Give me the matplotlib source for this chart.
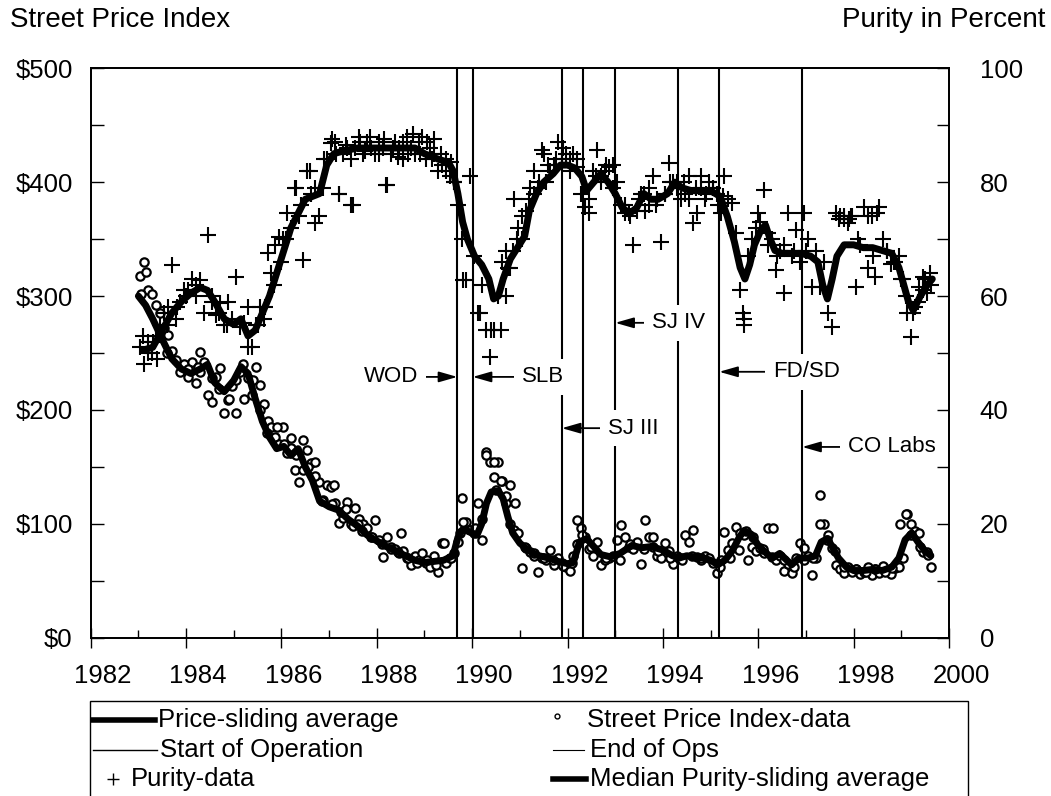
import numpy as np
import matplotlib
matplotlib.use("Agg")
import matplotlib.pyplot as plt
from matplotlib.lines import Line2D
from matplotlib.patches import Rectangle
from matplotlib.transforms import ScaledTranslation

plt.rcParams['font.family'] = ['Liberation Sans', 'DejaVu Sans']

W, H = 1051, 796

# monthly street price index readings, Jan 1983 onwards ($)
price_data = [
    318, 330, 305, 302, 292, 285, 272, 266, 252, 244, 233, 240,   # 1983
    229, 242, 224, 251, 242, 213, 207, 229, 237, 197, 209, 221,   # 1984
    197, 233, 210, 228, 213, 238, 222, 205, 190, 185, 176, 170,   # 1985
    185, 162, 167, 147, 137, 174, 165, 153, 154, 137, 121, 134,   # 1986
    132, 118, 101, 105, 119, 100, 114, 104, 100, 96, 88, 103,     # 1987
    86, 71, 88, 80, 78, 74, 76, 70, 64, 72, 68, 74,               # 1988
    66, 62, 72, 58, 83, 66, 70, 74, 84, 123, 102, 95,             # 1989
    92, 118, 86, 163, 154, 141, 154, 138, 118, 134, 95, 92,       # 1990
    61, 79, 75, 72, 58, 70, 68, 77, 64, 70, 66, 62,               # 1991
    59, 72, 103, 96, 88, 78, 72, 84, 64, 68, 70, 72,              # 1992
    86, 99, 88, 80, 78, 84, 65, 103, 88, 80, 72, 70,              # 1993
    83, 76, 65, 72, 70, 90, 84, 95, 71, 68, 72, 70,               # 1994
    66, 57, 68, 93, 77, 83, 97, 92, 90, 68, 80, 76,               # 1995
    79, 74, 96, 71, 68, 72, 59, 65, 57, 70, 83, 79,               # 1996
    72, 55, 70, 125, 100, 90, 79, 64, 60, 57, 62, 58,             # 1997
    60, 56, 58, 62, 55, 60, 57, 63, 59, 56, 61, 62,               # 1998
    70, 109, 100, 94, 92, 75, 75, 62,                             # 1999
]
# additional price readings between the monthly ones
extra_price_t = [1983.05, 1983.15, 1983.6, 1984.05, 1984.25, 1984.3, 1984.55, 1984.7,
                 1984.9, 1985.05, 1985.2, 1985.4, 1985.55, 1985.7, 1985.9, 1986.05,
                 1986.2, 1986.3, 1986.45, 1986.55, 1986.7, 1986.85, 1987.05, 1987.1,
                 1987.25, 1987.35, 1987.5, 1987.6, 1987.7, 1987.9, 1988.1, 1988.3,
                 1988.45, 1988.5, 1988.65, 1988.85, 1989.05, 1989.25, 1989.4, 1989.55,
                 1989.75, 1989.8, 1990.05, 1990.2, 1990.3, 1990.45, 1990.5, 1990.6,
                 1990.7, 1990.8, 1990.9, 1991.1, 1991.3, 1991.5, 1991.7, 1991.9, 1992.1,
                 1992.2, 1992.3, 1992.5, 1992.8, 1993.1, 1993.3, 1993.6, 1993.8, 1993.9,
                 1994.15, 1994.4, 1994.6, 1994.8, 1995.2, 1995.4, 1995.6, 1995.75, 1995.9,
                 1996.1, 1996.3, 1996.55, 1996.75, 1996.95, 1997.15, 1997.3, 1997.45,
                 1997.6, 1997.8, 1998.05, 1998.25, 1998.45, 1998.65, 1998.8, 1998.98,
                 1999.1, 1999.2, 1999.4, 1999.55]
extra_price_v = [302, 321, 250, 236, 238, 233, 228, 218, 210, 226, 240, 226, 200, 180,
                 185, 170, 175, 160, 147, 150, 142, 120, 117, 134, 110, 113, 98, 100, 94,
                 88, 82, 78, 75, 92, 70, 66, 68, 64, 83, 70, 92, 102, 96, 104, 160, 154,
                 130, 138, 124, 100, 118, 80, 74, 70, 68, 63, 66, 82, 90, 80, 70, 68, 82,
                 78, 88, 76, 70, 68, 72, 70, 62, 70, 77, 94, 88, 78, 96, 68, 62, 68, 70,
                 100, 86, 76, 62, 60, 58, 60, 58, 61, 100, 109, 90, 80, 73]

# monthly median purity readings, Jan 1983 onwards (%)
purity_data = [
    51, 48, 52, 50, 53, 55, 57, 58, 65.4, 56, 59, 61,              # 1983
    61, 63, 60, 62.8, 57, 70.7, 59, 56.7, 58.7, 55, 59, 56,        # 1984
    63.4, 54.5, 55.2, 58, 51, 55, 58, 56, 67.5, 64, 69, 70.3,      # 1985
    70, 74.5, 72, 79, 74, 66.3, 82, 78, 72.8, 74, 79, 84,          # 1986
    86.8, 87, 78, 85, 86, 76, 86, 88, 85, 87, 86, 85,              # 1987
    87, 86, 79.5, 85, 87, 86, 84, 88, 86, 85, 87, 88,              # 1988
    84, 86, 85, 82, 83, 84, 81, 80, 76, 70, 62.8, 81,              # 1989
    67, 57, 62, 54, 49.3, 54, 60, 66, 68, 65, 77, 72,              # 1990
    70, 75, 79, 82, 79, 85.6, 80, 82, 83, 87, 84, 85,              # 1991
    84, 85, 82.7, 78, 75.6, 74.5, 82, 85.6, 81, 82, 82.7, 83,      # 1992
    80, 76, 74.5, 74.5, 69, 75, 78, 75, 76, 81, 77, 69.5,          # 1993
    78, 83.3, 80, 79, 77, 78, 81, 72.8, 74.5, 79, 77, 80,          # 1994
    79, 78, 74.5, 81, 77, 76.3, 71, 61, 56, 67, 70, 72,            # 1995
    73, 78.6, 69, 70, 64.5, 68, 60.5, 74.5, 67, 71.6, 66, 74.5,    # 1996
    70, 61.6, 68, 61.6, 66, 57, 54.6, 74.5, 74, 73.5, 72.8, 74,    # 1997
    61.6, 69, 75.6, 65, 74, 63.4, 75.6, 70, 68, 65.7, 66, 67,      # 1998
    63, 57, 52.8, 58, 61.6, 63.4, 60.5, 62,                        # 1999
]
extra_purity_t = [1983.1, 1983.2, 1983.3, 1983.4, 1983.6, 1983.8, 1984.0, 1984.2, 1984.55,
                  1984.7, 1984.85, 1985.3, 1985.5, 1985.65, 1985.85, 1986.0, 1986.1,
                  1986.3, 1986.4, 1986.6, 1986.7, 1986.9, 1987.05, 1987.15, 1987.2,
                  1987.35, 1987.45, 1987.5, 1987.65, 1987.75, 1987.85, 1988.05, 1988.15,
                  1988.2, 1988.35, 1988.45, 1988.55, 1988.65, 1988.75, 1988.9, 1989.05,
                  1989.15, 1989.2, 1989.35, 1989.45, 1989.55, 1989.62, 1989.8, 1990.17,
                  1990.4, 1990.6, 1990.7, 1990.75, 1990.85, 1990.95, 1991.05, 1991.2,
                  1991.3, 1991.4, 1991.5, 1991.6, 1991.75, 1991.9, 1992.05, 1992.2,
                  1992.45, 1992.6, 1992.7, 1992.8, 1992.95, 1993.2, 1993.3, 1993.5,
                  1993.6, 1993.7, 1993.85, 1994.05, 1994.15, 1994.3, 1994.45, 1994.55,
                  1994.7, 1994.8, 1994.9, 1995.05, 1995.15, 1995.25, 1995.67, 1995.7,
                  1996.0, 1996.2, 1996.4, 1996.55, 1996.75, 1997.0, 1997.7, 1997.8,
                  1997.9, 1997.95, 1998.1, 1998.3, 1998.4, 1998.5, 1998.7, 1998.85,
                  1999.0, 1999.1, 1999.25, 1999.35, 1999.45, 1999.5, 1999.6]
extra_purity_v = [53, 50, 52, 49, 55, 58, 60, 62, 60, 57, 55, 51, 55, 58, 62, 66, 70,
                  79, 76, 82, 79, 84, 87.5, 85, 78, 86.5, 84, 76, 87, 85.5, 88, 85, 87.5,
                  79.5, 86, 84.5, 87, 85, 88.5, 85, 87, 84, 87.5, 85, 82, 83.5, 80, 62.8,
                  57, 54, 54, 60, 65, 68, 70, 74, 77, 78, 80, 85, 83, 84, 86, 82, 84, 77,
                  81, 80, 83, 79, 76, 74, 77, 78, 79, 76, 78, 80, 80, 80, 77, 79, 81, 78,
                  79, 76, 77.5, 57, 55, 74.5, 71, 67, 69, 68, 68, 73.5, 74, 73.5, 74, 70,
                  74, 67, 74.5, 68, 66, 63, 60, 57, 59, 61, 63, 64]

# sliding averages
price_avg_t = [1983.0, 1983.15, 1983.3, 1983.5, 1983.7, 1983.9, 1984.1, 1984.3, 1984.45,
               1984.6, 1984.8, 1985.0, 1985.15, 1985.3, 1985.45, 1985.6, 1985.75, 1985.9,
               1986.05, 1986.2, 1986.35, 1986.5, 1986.65, 1986.8, 1987.0, 1987.2, 1987.4,
               1987.6, 1987.8, 1988.0, 1988.2, 1988.4, 1988.6, 1988.8, 1989.0, 1989.2,
               1989.4, 1989.6, 1989.7, 1989.8, 1989.95, 1990.1, 1990.2, 1990.3, 1990.4,
               1990.55, 1990.65, 1990.75, 1990.85, 1991.0, 1991.2, 1991.4, 1991.6, 1991.8,
               1992.0, 1992.12, 1992.25, 1992.4, 1992.55, 1992.7, 1992.9, 1993.1, 1993.35,
               1993.55, 1993.75, 1994.0, 1994.2, 1994.35, 1994.5, 1994.65, 1994.85, 1995.0,
               1995.15, 1995.3, 1995.45, 1995.6, 1995.7, 1995.85, 1996.0, 1996.2, 1996.3,
               1996.45, 1996.6, 1996.7, 1996.85, 1997.05, 1997.2, 1997.32, 1997.45, 1997.55,
               1997.68, 1997.85, 1998.0, 1998.2, 1998.4, 1998.6, 1998.8, 1998.95, 1999.08,
               1999.22, 1999.35, 1999.5, 1999.62]
price_avg_v = [300, 292, 280, 262, 245, 236, 232, 236, 240, 224, 216, 226, 238, 232, 210,
               190, 176, 166, 168, 160, 166, 150, 138, 120, 115, 112, 104, 98, 90, 85, 80,
               76, 72, 68, 66, 67, 68, 72, 88, 95, 93, 90, 100, 118, 128, 129, 122, 106, 92,
               83, 76, 72, 70, 67, 65, 66, 84, 87, 80, 73, 71, 74, 81, 79, 80, 77, 72, 70,
               72, 71, 70, 68, 64, 68, 76, 88, 94, 91, 81, 73, 70, 74, 68, 64, 70, 70, 72,
               84, 87, 80, 70, 62, 59, 59, 60, 59, 62, 70, 86, 92, 84, 76, 72]

purity_avg_t = [1983.1, 1983.3, 1983.5, 1983.7, 1983.9, 1984.1, 1984.3, 1984.45, 1984.6,
                1984.8, 1985.0, 1985.15, 1985.3, 1985.45, 1985.6, 1985.75, 1985.9, 1986.05,
                1986.2, 1986.35, 1986.5, 1986.65, 1986.8, 1986.95, 1987.1, 1987.3, 1987.6,
                1988.0, 1988.4, 1988.8, 1989.0, 1989.3, 1989.5, 1989.6, 1989.7, 1989.8,
                1989.9, 1990.05, 1990.2, 1990.35, 1990.45, 1990.55, 1990.65, 1990.8,
                1990.95, 1991.1, 1991.2, 1991.35, 1991.5, 1991.7, 1991.85, 1992.0, 1992.15,
                1992.3, 1992.4, 1992.55, 1992.7, 1992.85, 1993.0, 1993.15, 1993.3, 1993.45,
                1993.6, 1993.75, 1993.9, 1994.1, 1994.25, 1994.4, 1994.6, 1994.8, 1995.0,
                1995.2, 1995.35, 1995.5, 1995.62, 1995.72, 1995.82, 1995.92, 1996.05,
                1996.15, 1996.25, 1996.35, 1996.5, 1996.7, 1996.9, 1997.1, 1997.25, 1997.35,
                1997.45, 1997.55, 1997.65, 1997.8, 1998.0, 1998.2, 1998.4, 1998.6, 1998.8,
                1998.95, 1999.05, 1999.15, 1999.25, 1999.4, 1999.55, 1999.65]
purity_avg_v = [50.5, 51, 54, 57, 59, 60.5, 61.5, 61, 59, 56, 55, 56, 53, 54, 57, 60, 64,
                68, 72, 74.5, 77, 77.5, 78, 83, 85, 85.5, 86, 86, 86, 86, 85, 84, 83.5, 82,
                78, 73, 70, 67, 65.5, 63, 59.5, 60, 63, 66.5, 68.5, 70.5, 75, 78, 80, 81.5,
                83, 83, 82.5, 81, 78.5, 80, 81.5, 80, 78, 75.5, 74.5, 75.5, 78, 77, 77, 78,
                80, 79, 78.5, 78.5, 78.5, 77.5, 74, 69.5, 65, 63, 65.5, 69, 71.5, 72.5, 70,
                68, 67.5, 67.5, 67.5, 67, 66, 62, 59.5, 63, 67, 69, 69, 68.5, 68.5, 68, 67.5,
                65, 62, 59, 57.5, 60, 62, 63]

# operation start / end dates
op_dates = [1989.69, 1990.01, 1991.88, 1992.33, 1993.0, 1994.32, 1995.18, 1996.92]
op_names = ['WOD', 'SLB', 'SJ III', 'SJ IV', 'FD/SD', 'CO Labs']
op_tips = [1989.69, 1990.01, 1991.88, 1993.0, 1995.18, 1996.92]
op_text_x = [1988.86, 1991.05, 1992.85, 1993.77, 1996.31, 1997.88]
op_text_y = [45.8, 45.8, 36.8, 55.3, 46.7, 33.5]

price_t = 1983 + (np.arange(len(price_data)) + 0.5) / 12
purity_t = 1983 + (np.arange(len(purity_data)) + 0.5) / 12

fig = plt.figure(figsize=(W / 100, H / 100), dpi=100)
ax = fig.add_axes([90.7 / W, 1 - 637.7 / H, (949 - 90.7) / W, (637.7 - 68.3) / H])
ax2 = ax.twinx()

circ = dict(ms=6, mfc='white', mec='black', mew=1.6, zorder=2)
ax.plot(price_t, price_data, 'o', **circ)
ax.plot(extra_price_t, extra_price_v, 'o', **circ)
ax.plot(price_avg_t, price_avg_v, '-', color='black', lw=5, solid_capstyle='round', zorder=3)

ax2.plot(purity_t, purity_data, '+', ms=11, mew=1.5, color='black', zorder=2)
ax2.plot(extra_purity_t, extra_purity_v, '+', ms=11, mew=1.5, color='black', zorder=2)
ax2.plot(purity_avg_t, purity_avg_v, '-', color='black', lw=5, solid_capstyle='round', zorder=3)

for d in op_dates:
    ax2.axvline(d, color='black', lw=1.5, zorder=1)

for name, tip, tx, ty in zip(op_names, op_tips, op_text_x, op_text_y):
    ha = 'right' if tx < tip else 'left'
    ax2.annotate(name, xy=(tip, ty), xytext=(tx, ty), ha=ha, va='center', fontsize=16,
                 bbox=dict(boxstyle='square,pad=0.35', fc='white', ec='none'),
                 arrowprops=dict(arrowstyle='-|>,head_length=0.7,head_width=0.2',
                                 color='black', lw=1.3, shrinkA=0, shrinkB=0),
                 zorder=5)

ax.set_xlim(1982, 2000)
ax.set_ylim(0, 500)
ax2.set_ylim(0, 100)

ax.set_xticks(range(1982, 2001, 2))
ax.set_xticks(range(1983, 2000, 2), minor=True)
ax.set_yticks(range(0, 501, 100))
ax.set_yticklabels(['$%d' % v for v in range(0, 501, 100)])
ax.set_yticks(range(50, 500, 100), minor=True)
ax2.set_yticks(range(0, 101, 20))
ax2.set_yticks(range(10, 100, 20), minor=True)

ax.tick_params(axis='x', which='major', direction='inout', length=14, width=1,
               labelsize=18.5, pad=12)
ax.tick_params(axis='x', which='minor', direction='in', length=6, width=1)
ax.tick_params(axis='y', which='both', direction='in', length=9, width=1,
               labelsize=18.5, pad=13)
ax2.tick_params(axis='y', which='both', direction='in', length=9, width=1,
                labelsize=18.5, pad=22)
for lab in ax.get_xticklabels():
    lab.set_transform(lab.get_transform() + ScaledTranslation(0.12, 0, fig.dpi_scale_trans))

for a in (ax, ax2):
    for s in a.spines.values():
        s.set_linewidth(1.3)
        s.set_zorder(10)

fig.text(10 / W, 1 - 20 / H, 'Street Price Index', fontsize=20, ha='left', va='center')
fig.text(1045 / W, 1 - 20 / H, 'Purity in Percent', fontsize=20, ha='right', va='center')


# legend box under the plot, drawn in figure pixels
def fx(px):
    return px / W


def fy(py):
    return 1 - py / H


fig.add_artist(Rectangle((fx(90), fy(830)), fx(968) - fx(90), fy(701) - fy(830),
                         transform=fig.transFigure, fc='none', ec='black', lw=1))

leg_fs = 18.5
rows = [720, 750, 779]
fig.add_artist(Line2D([fx(93), fx(155)], [fy(rows[0])] * 2, color='black', lw=4))
fig.text(fx(158), fy(rows[0]), 'Price-sliding average', fontsize=leg_fs, va='center')
fig.add_artist(Line2D([fx(93), fx(157)], [fy(rows[1])] * 2, color='black', lw=1))
fig.text(fx(160), fy(rows[1]), 'Start of Operation', fontsize=leg_fs, va='center')
fig.add_artist(Line2D([fx(113)], [fy(rows[2])], marker='+', ms=8, mew=1, color='black'))
fig.text(fx(131), fy(rows[2]), 'Purity-data', fontsize=leg_fs, va='center')

fig.add_artist(Line2D([fx(557)], [fy(rows[0] - 4)], marker='o', ms=3.5, mfc='white',
                      mec='black', mew=1))
fig.text(fx(587), fy(rows[0]), 'Street Price Index-data', fontsize=leg_fs, va='center')
fig.add_artist(Line2D([fx(553), fx(584)], [fy(rows[1])] * 2, color='black', lw=0.8))
fig.text(fx(590), fy(rows[1]), 'End of Ops', fontsize=leg_fs, va='center')
fig.add_artist(Line2D([fx(553), fx(586)], [fy(rows[2])] * 2, color='black', lw=4))
fig.text(fx(590), fy(rows[2]), 'Median Purity-sliding average', fontsize=leg_fs, va='center')

fig.savefig('out.png', dpi=100)
